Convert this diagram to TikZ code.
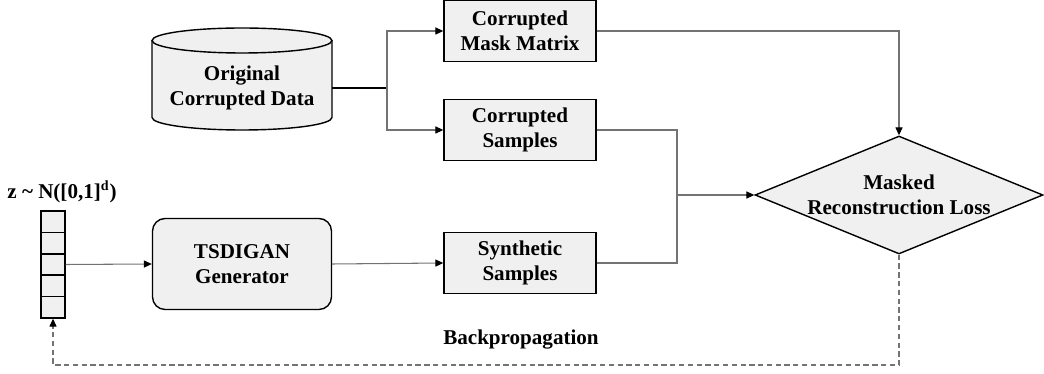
\documentclass[tikz,border=0pt]{standalone}
\usepackage{fontspec}
\setmainfont{Liberation Serif}
\usepackage{tikz}
\usetikzlibrary{shapes.geometric,arrows.meta,positioning,calc}
\definecolor{boxfill}{RGB}{240,240,240}
\definecolor{wire}{RGB}{115,115,115}

\begin{document}
\begin{tikzpicture}[x=0.02cm,y=-0.02cm,font=\fontsize{12}{14.4}\selectfont\bfseries]
\tikzset{block/.style={draw,line width=0.8pt,fill=boxfill,minimum width=3.04cm,minimum height=1.22cm,align=center,inner sep=0pt},
  wirearr/.style={draw=wire,line width=0.6pt,-{Triangle[length=4.5pt,width=4pt,color=black]}},
  wireline/.style={draw=wire,line width=0.6pt},
  cell/.style={draw,line width=0.8pt,fill=boxfill,minimum width=0.48cm,minimum height=0.428cm,inner sep=0pt}}
\useasboundingbox (0,0) rectangle (1044,374);
\fill[boxfill] (152,40.5) -- (152,117.5) arc[start angle=180,end angle=360,x radius=1.8cm,y radius=0.25cm] -- (332,40.5) arc[start angle=0,end angle=180,x radius=1.8cm,y radius=0.25cm] -- cycle;
\draw[line width=0.8pt] (152,40.5) -- (152,117.5) arc[start angle=180,end angle=360,x radius=1.8cm,y radius=0.25cm] -- (332,40.5);
\draw[line width=0.8pt] (242,40.5) ellipse[x radius=1.8cm,y radius=0.25cm];
\node[minimum width=3.6cm,inner sep=0pt,align=center] (data) at (242,88) {Original\\Corrupted Data};
\node[block] (mask) at (520,31) {Corrupted\\Mask Matrix};
\node[block] (corr) at (520,130) {Corrupted\\Samples};
\node[block] (synth) at (520,263) {Synthetic\\Samples};
\node[block,rounded corners=0.25cm,minimum width=3.58cm,minimum height=1.82cm] (gen) at (242,264) {TSDIGAN\\Generator};
\node[diamond,draw,line width=0.8pt,fill=boxfill,aspect=2.45,inner sep=0pt,minimum width=5.76cm,minimum height=2.36cm,align=center] (loss) at (899,195) {Masked\\Reconstruction Loss};
\foreach \i in {1,...,5}
  \node[cell] (z\i) at (53,{211+21.4*(\i-0.5)}) {};
\node (zlabel) at (62,192) {z \textasciitilde{} N([0,1]\textsuperscript{\fontsize{8}{8}\selectfont d})};
\node (bp) at (521,340) {Backpropagation};
\coordinate (split) at (387,88);
\coordinate (join) at (677,195);
\coordinate (low) at (53,365);
\draw[line width=0.7pt] (data.east) -- (split);
\draw[wirearr] (split) |- (mask.west);
\draw[wirearr] (split) |- (corr.west);
\draw[wirearr] (mask.east) -| (loss.north);
\draw[wireline] (corr.east) -| (join);
\draw[wireline] (synth.east) -| (join);
\draw[wirearr] (join) -- (loss.west);
\draw[wirearr] (z3.east) -- (gen.west);
\draw[wirearr] (gen.east) -- (synth.west);
\draw[wirearr,dash pattern=on 3pt off 2pt] (loss.south) |- (low) -- (z5.south);
\end{tikzpicture}
\end{document}
